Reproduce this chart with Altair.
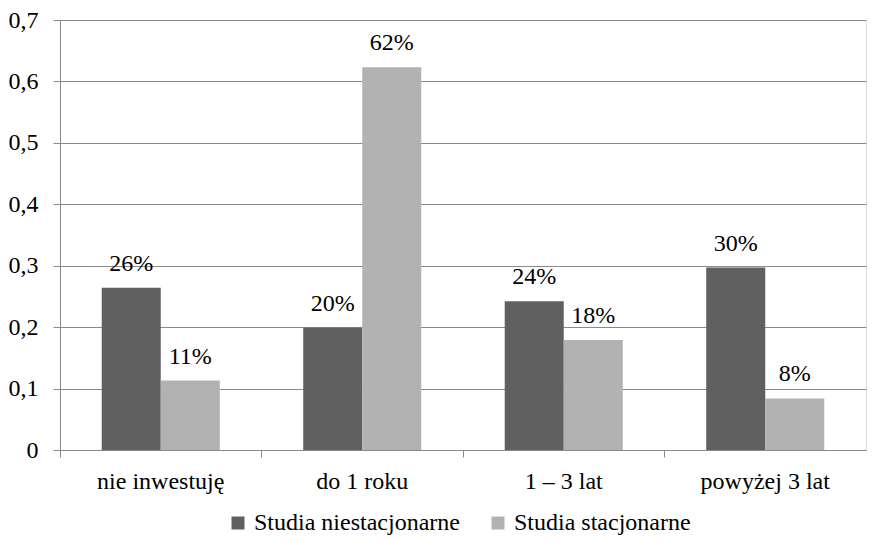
import altair as alt
import pandas as pd

categories = ["nie inwestuję", "do 1 roku", "1 – 3 lat", "powyżej 3 lat"]
series = ["Studia niestacjonarne", "Studia stacjonarne"]
niestacjonarne = [0.264, 0.199, 0.242, 0.297]
stacjonarne = [0.113, 0.623, 0.179, 0.084]

rows = []
for c, a, b in zip(categories, niestacjonarne, stacjonarne):
    rows.append({"cat": c, "series": series[0], "value": a})
    rows.append({"cat": c, "series": series[1], "value": b})
df = pd.DataFrame(rows)

FONT = "Liberation Serif"
GRID = "#8a8a8a"
FS = 24

x = alt.X("cat:N", sort=categories, title=None,
          scale=alt.Scale(paddingInner=0, paddingOuter=0),
          axis=alt.Axis(bandPosition=0, labelAngle=0,
                        labelPadding=12, tickSize=7, tickColor=GRID,
                        domainColor=GRID, labelFont=FONT, labelFontSize=FS,
                        labelColor="black", grid=False))
xo = alt.XOffset("series:N", sort=series,
                 scale=alt.Scale(paddingInner=0, paddingOuter=0.707))
y = alt.Y("value:Q", title=None,
          scale=alt.Scale(domain=[0, 0.7], nice=False),
          axis=alt.Axis(values=[0, 0.1, 0.2, 0.3, 0.4, 0.5, 0.6, 0.7],
                        labelExpr="datum.value == 0 ? '0' : replace(format(datum.value, '.1f'), '.', ',')",
                        gridColor=GRID, tickColor=GRID, domainColor=GRID,
                        tickSize=7, labelPadding=15, labelFont=FONT,
                        labelFontSize=FS, labelColor="black",
                        minExtent=52, maxExtent=52))

color = alt.Color("series:N", sort=series,
                  scale=alt.Scale(domain=series, range=["#606060", "#b2b2b2"]),
                  legend=alt.Legend(title=None, orient="none", direction="horizontal",
                                    legendX=166, legendY=491,
                                    symbolType="square", symbolSize=169,
                                    symbolStrokeWidth=0, labelFont=FONT,
                                    labelFontSize=FS, labelColor="black",
                                    labelLimit=0,
                                    columnPadding=26, labelOffset=4))

base = alt.Chart(df).encode(x=x, xOffset=xo, y=y)
bars = base.mark_bar(strokeWidth=0).encode(color=color)
text = base.mark_text(font=FONT, fontSize=FS, baseline="middle", dy=-24,
                      color="black").encode(text=alt.Text("value:Q", format=".0%"))

chart = (bars + text).properties(
    width=806, height=430,
    padding={"left": 0, "top": 0, "right": 4, "bottom": 0},
).configure_view(stroke=None).configure(background="white")

chart.save("out.html", embed_options={"renderer": "svg", "actions": False})
